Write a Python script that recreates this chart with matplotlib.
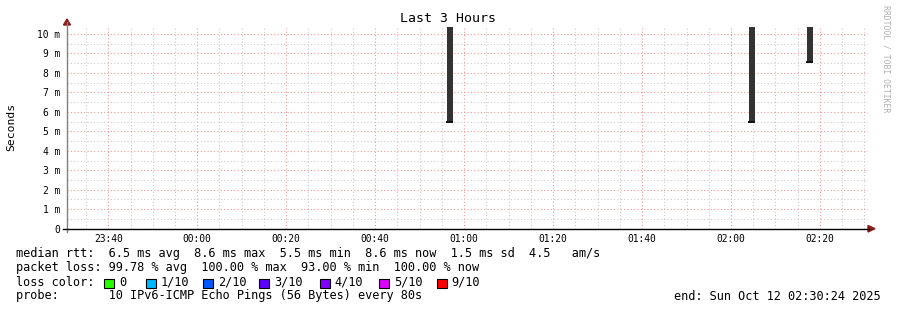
#!/usr/bin/env python3
"""SmokePing style 'Last 3 Hours' latency graph, redrawn with matplotlib."""

from datetime import datetime, timedelta

import matplotlib
matplotlib.use("Agg")
import matplotlib.pyplot as plt
import matplotlib.dates as mdates
import matplotlib.ticker as ticker
from matplotlib.patches import Polygon, Rectangle
from matplotlib.lines import Line2D

# ── Data ──────────────────────────────────────────────────────────────────────
bar_start = ["2025-10-12 00:56:05", "2025-10-12 02:03:58", "2025-10-12 02:17:09"]
median_ms = [5.50, 5.47, 8.58]
smoke_top_ms = [12.0, 12.0, 12.0]      # smoke runs off the top of the graph
step_s = 80

x_start = "2025-10-11 23:30:43"
x_end = "2025-10-12 02:30:43"
y_ticks = [0, 1, 2, 3, 4, 5, 6, 7, 8, 9, 10]

loss_labels = ["0", "1/10", "2/10", "3/10", "4/10", "5/10", "9/10"]
loss_colors = ["#26ff00", "#00b8ff", "#0059ff", "#5e00ff", "#7e00ff", "#dd00ff", "#ff0000"]
loss_box_x = [104.3, 146.0, 203.3, 259.3, 320.0, 379.3, 436.7]

line_rtt = "median rtt:  6.5 ms avg  8.6 ms max  5.5 ms min  8.6 ms now  1.5 ms sd  4.5   am/s"
line_loss = "packet loss: 99.78 % avg  100.00 % max  93.00 % min  100.00 % now"
line_probe = "probe:       10 IPv6-ICMP Echo Pings (56 Bytes) every 80s"
line_end = "end: Sun Oct 12 02:30:24 2025"

# ── Figure geometry (pixels) ──────────────────────────────────────────────────
W, H = 897, 310
X0, X1 = 67, 867.6
Y0, Y1 = 228.7, 27
MONO = "DejaVu Sans Mono"

plt.rcParams["font.family"] = MONO

fig = plt.figure(figsize=(W / 100, H / 100), dpi=100)
fig.patch.set_facecolor("white")


def fx(px):
    return px / W


def fy(py):
    return 1 - py / H


ax = fig.add_axes([fx(X0), fy(Y0), fx(X1 - X0), (Y0 - Y1) / H])
ax.set_facecolor("white")

t0 = datetime.fromisoformat(x_start)
t1 = datetime.fromisoformat(x_end)
ax.set_xlim(t0, t1)
ax.set_ylim(0, 10.36)

# ── Grid ──────────────────────────────────────────────────────────────────────
ax.xaxis.set_major_locator(mdates.MinuteLocator(byminute=[0, 20, 40]))
ax.xaxis.set_minor_locator(mdates.MinuteLocator(byminute=range(0, 60, 5)))
ax.xaxis.set_major_formatter(mdates.DateFormatter("%H:%M"))
ax.yaxis.set_major_locator(ticker.FixedLocator(y_ticks))
ax.yaxis.set_minor_locator(ticker.MultipleLocator(0.5))
ax.yaxis.set_major_formatter(
    ticker.FuncFormatter(lambda v, p: "0" if v == 0 else f"{int(v)} m"))

# rrdtool style dotted grid
ax.grid(True, which="minor", color="#cccccc", linestyle=(0, (1, 2)), linewidth=0.8)
ax.grid(True, which="major", color="#f29a9a", linestyle=(0, (1, 2)), linewidth=0.8)
ax.set_axisbelow(True)

ax.tick_params(which="both", length=0)
ax.tick_params(axis="y", labelsize=6.9, pad=5)
ax.tick_params(axis="x", labelsize=6.9, pad=4)

for s in ax.spines.values():
    s.set_visible(False)

# ── Smoke bars and median ticks ───────────────────────────────────────────────
width = step_s / 86400
for ts, med, top in zip(bar_start, median_ms, smoke_top_ms):
    t = datetime.fromisoformat(ts)
    ax.bar(t, top - med, width=width, bottom=med, align="edge",
           color="#333333", linewidth=0, zorder=3)
    ax.hlines(med, t - timedelta(seconds=14), t + timedelta(seconds=step_s),
              color="#111111", linewidth=1.4, zorder=4)

# ── Axes lines and arrows (rrdtool look) ──────────────────────────────────────
fig.add_artist(Line2D([fx(X0), fx(X0)], [fy(Y0 + 3), fy(22)],
                      color="#808080", linewidth=1))
fig.add_artist(Line2D([fx(X0 - 4), fx(869)], [fy(Y0), fy(Y0)],
                      color="black", linewidth=1))
fig.add_artist(Polygon([[fx(63.5), fy(25)], [fx(70.5), fy(25)], [fx(67), fy(19)]],
                       closed=True, color="#8b1a1a", transform=fig.transFigure))
fig.add_artist(Polygon([[fx(868), fy(225.5)], [fx(868), fy(232)], [fx(875), fy(228.7)]],
                       closed=True, color="#8b1a1a", transform=fig.transFigure))

# ── Texts ─────────────────────────────────────────────────────────────────────
fig.text(fx(448), fy(19), "Last 3 Hours", ha="center", va="center", fontsize=9.5)
fig.text(fx(11), fy(127), "Seconds", ha="center", va="center",
         rotation=90, fontsize=8.2)
fig.text(fx(886), fy(5), "RRDTOOL / TOBI OETIKER", ha="center", va="top",
         rotation=270, fontsize=5.9, color="#b0b0b0")

LEG = 8.55
fig.text(fx(16), fy(254), line_rtt, ha="left", va="center", fontsize=LEG)
fig.text(fx(16), fy(268), line_loss, ha="left", va="center", fontsize=LEG)
fig.text(fx(16), fy(282), "loss color:", ha="left", va="center", fontsize=LEG)
fig.text(fx(16), fy(296), line_probe, ha="left", va="center", fontsize=LEG)
fig.text(fx(881), fy(296), line_end, ha="right", va="center", fontsize=LEG)

for bx, lab, col in zip(loss_box_x, loss_labels, loss_colors):
    fig.add_artist(Rectangle((fx(bx), fy(287.5)), fx(10), 9 / H,
                             facecolor=col, edgecolor="black", linewidth=0.8,
                             transform=fig.transFigure))
    fig.text(fx(bx + 14.5), fy(282), lab, ha="left", va="center", fontsize=LEG)

fig.savefig("out.png", dpi=100)
